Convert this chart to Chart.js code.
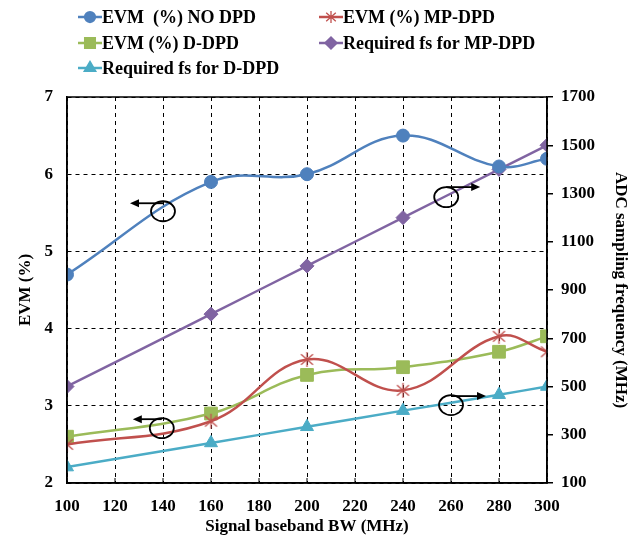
<!DOCTYPE html>
<html>
<head>
<meta charset="utf-8">
<script src="https://cdn.jsdelivr.net/npm/chart.js@4/dist/chart.umd.min.js"></script>
<style>
  html, body { margin: 0; padding: 0; background: #fff; }
  #wrap { width: 638px; height: 542px; position: relative; }
</style>
</head>
<body>
<div id="wrap"><canvas id="chart"></canvas></div>
<script>
// data
const bandwidths = [100, 160, 200, 240, 280, 300];
const evmNoDpd = [4.7, 5.9, 6.0, 6.5, 6.1, 6.2];
const evmMpDpd = [2.5, 2.8, 3.6, 3.2, 3.9, 3.7];
const evmDDpd = [2.6, 2.9, 3.4, 3.5, 3.7, 3.9];
const fsMpDpd = [500, 800, 1000, 1200, 1400, 1500];
const fsDDpd = [166, 266, 333, 400, 466, 500];

const FONT = "'Liberation Serif', 'Times New Roman', serif";

function pts(ys) {
  return bandwidths.map((x, i) => ({ x: x, y: ys[i] }));
}

// Excel-like asterisk marker: an X with a vertical stroke
function asterisk(size, color) {
  const c = document.createElement('canvas');
  c.width = size; c.height = size;
  const g = c.getContext('2d');
  const m = size / 2, r = size / 2 - 1;
  g.strokeStyle = color;
  g.lineWidth = 1.3;
  g.beginPath();
  g.moveTo(m, m - r); g.lineTo(m, m + r);
  g.moveTo(m - r * 0.8, m - r * 0.7); g.lineTo(m + r * 0.8, m + r * 0.7);
  g.moveTo(m + r * 0.8, m - r * 0.7); g.lineTo(m - r * 0.8, m + r * 0.7);
  g.stroke();
  return c;
}

// arrows + ellipses pointing at the axis each curve belongs to (data units)
const callouts = [
  { x: 140, y: 5.52, axis: 'y', dir: -1, len: 33, lift: 8 },
  { x: 258, y: 1285, axis: 'y1', dir: 1, len: 34, lift: 10 },
  { x: 139.5, y: 2.71, axis: 'y', dir: -1, len: 29, lift: 9 },
  { x: 260, y: 423, axis: 'y1', dir: 1, len: 35, lift: 9 }
];

const series = [
  { label: 'EVM  (%) NO DPD', data: evmNoDpd, color: '#4F81BD', style: 'circle', r: 6.5, axis: 'y' },
  { label: 'EVM (%) MP-DPD', data: evmMpDpd, color: '#C0504D', style: asterisk(17, '#C0504D'), r: 7.5, axis: 'y' },
  { label: 'EVM (%) D-DPD', data: evmDDpd, color: '#9BBB59', style: 'rect', r: 9, axis: 'y' },
  { label: 'Required fs for MP-DPD', data: fsMpDpd, color: '#8064A2', style: 'rectRot', r: 7, axis: 'y1' },
  { label: 'Required fs for D-DPD', data: fsDDpd, color: '#4BACC6', style: 'triangle', r: 7.5, axis: 'y1' }
];
const legendStar = asterisk(14, '#C0504D');

const legendPos = [
  [78, 17], [319, 17],
  [78, 43], [319, 43],
  [78, 68]
];

const extras = {
  id: 'extras',
  afterDatasetsDraw(chart) {
    const ctx = chart.ctx;
    const area = chart.chartArea;
    const xs = chart.scales.x;
    ctx.save();
    // solid frame round the plot
    ctx.strokeStyle = '#000';
    ctx.lineWidth = 1.5;
    ctx.setLineDash([]);
    ctx.strokeRect(area.left, area.top, area.right - area.left, area.bottom - area.top);

    // small inward tick marks on the x axis
    ctx.lineWidth = 1;
    xs.ticks.forEach(t => {
      const px = xs.getPixelForValue(t.value);
      ctx.beginPath();
      ctx.moveTo(px, area.bottom);
      ctx.lineTo(px, area.bottom - 5);
      ctx.stroke();
    });

    // callouts
    ctx.lineWidth = 1.8;
    callouts.forEach(c => {
      const cx = xs.getPixelForValue(c.x);
      const cy = chart.scales[c.axis].getPixelForValue(c.y);
      ctx.beginPath();
      ctx.ellipse(cx, cy, 12, 10, 0, 0, Math.PI * 2);
      ctx.stroke();
      const ay = cy - c.lift;
      const x1 = cx + c.dir * c.len;
      ctx.beginPath();
      ctx.moveTo(cx, ay);
      ctx.lineTo(x1 - c.dir * 6, ay);
      ctx.stroke();
      ctx.beginPath();
      ctx.moveTo(x1, ay);
      ctx.lineTo(x1 - c.dir * 9, ay - 4);
      ctx.lineTo(x1 - c.dir * 9, ay + 4);
      ctx.closePath();
      ctx.fillStyle = '#000';
      ctx.fill();
    });

    // legend
    ctx.font = 'bold 18px ' + FONT;
    ctx.textBaseline = 'middle';
    ctx.textAlign = 'left';
    series.forEach((s, i) => {
      const [lx, ly] = legendPos[i];
      ctx.strokeStyle = s.color;
      ctx.lineWidth = 2.5;
      ctx.beginPath();
      ctx.moveTo(lx, ly);
      ctx.lineTo(lx + 24, ly);
      ctx.stroke();
      ctx.fillStyle = s.color;
      ctx.strokeStyle = s.color;
      Chart.helpers.drawPoint(ctx, {
        pointStyle: typeof s.style === 'string' ? s.style : legendStar,
        radius: s.r * 0.75, borderWidth: 1.5
      }, lx + 12, ly);
      ctx.fillStyle = '#000';
      ctx.fillText(s.label, lx + 24, ly + 1);
    });
    ctx.restore();
  }
};

const tickFont = { family: FONT, size: 17, weight: 'bold' };

new Chart(document.getElementById('chart'), {
  type: 'line',
  data: {
    datasets: series.map(s => ({
      label: s.label,
      data: pts(s.data),
      yAxisID: s.axis,
      borderColor: s.color,
      backgroundColor: s.color,
      borderWidth: 2.5,
      tension: 0.4,
      pointStyle: s.style,
      pointRadius: s.r,
      pointBorderWidth: 1,
      pointBorderColor: s.color,
      pointBackgroundColor: s.color
    }))
  },
  options: {
    responsive: true,
    maintainAspectRatio: false,
    animation: false,
    layout: { padding: { top: 97, right: 7, left: 15, bottom: 5 } },
    plugins: { legend: { display: false }, tooltip: { enabled: false } },
    scales: {
      x: {
        type: 'linear',
        min: 100, max: 300,
        ticks: { stepSize: 20, color: '#000', font: tickFont, padding: 13 },
        grid: { color: '#000', lineWidth: 1, drawTicks: false },
        border: { display: true, color: '#000', width: 1.5, dash: [4, 4] },
        title: { display: true, text: 'Signal baseband BW (MHz)', color: '#000', font: tickFont, padding: 0 },
        afterFit(s) { s.height = 54; }
      },
      y: {
        position: 'left',
        min: 2, max: 7,
        ticks: { stepSize: 1, color: '#000', font: tickFont, padding: 14 },
        grid: { color: '#000', lineWidth: 1, drawTicks: false },
        border: { display: true, color: '#000', width: 1.5, dash: [4, 4] },
        title: { display: true, text: 'EVM (%)', color: '#000', font: tickFont, padding: 0 },
        afterFit(s) { s.width = 52; }
      },
      y1: {
        position: 'right',
        min: 100, max: 1700,
        ticks: { stepSize: 200, color: '#000', font: tickFont, padding: 8, callback: v => String(v) },
        grid: { drawOnChartArea: false, drawTicks: true, tickLength: 6, color: '#000', lineWidth: 1.5 },
        border: { display: true, color: '#000', width: 1.5 },
        title: { display: true, text: 'ADC sampling frequency (MHz)', color: '#000', font: tickFont, padding: 0 },
        afterFit(s) { s.width = 84; }
      }
    }
  },
  plugins: [extras]
});
</script>
</body>
</html>
